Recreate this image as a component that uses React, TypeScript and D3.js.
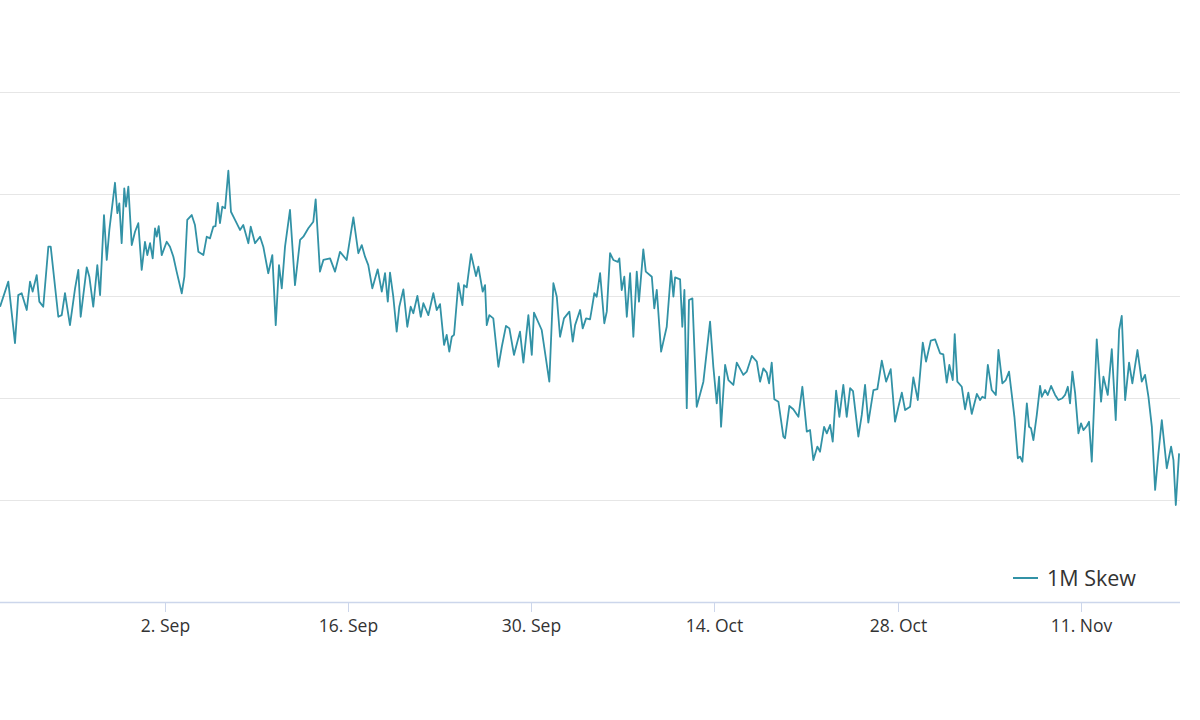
import React, { useMemo } from "react";
import * as d3 from "d3";

const WIDTH = 1200;
const HEIGHT = 720;
// the source chart is cropped on the left, so the plot starts just off-screen
const PLOT = { left: -5.57, right: 1180, top: 91.5, bottom: 602 };

const START = Date.UTC(2024, 7, 20);
const END_DAYS = 90.57;
const DAY = 86400000;

// 1M Skew, sampled at the turning points of the line (days since 20 Aug 2024)
const skewDays = [
  0.43, 1.06, 1.57, 1.82, 2.08, 2.47, 2.72, 2.92, 3.23, 3.43, 3.73, 4.12, 4.3, 4.88, 5.14, 5.39, 5.77, 6.16, 6.41, 6.59,
  7.05, 7.25, 7.55, 7.86, 8.07, 8.37, 8.58, 8.78, 9.21, 9.39, 9.54, 9.72, 9.92, 10.05, 10.23, 10.49, 10.74, 10.99, 11.25, 11.5,
  11.68, 11.89, 12.09, 12.27, 12.4, 12.55, 12.78, 13.16, 13.41, 13.67, 13.92, 14.31, 14.51, 14.73, 15.07, 15.32, 15.58, 15.96, 16.22, 16.47,
  16.72, 16.89, 17.06, 17.23, 17.41, 17.62, 17.87, 18.07, 18.38, 18.76, 19.01, 19.4, 19.58, 19.91, 20.29, 20.54, 20.92, 21.23, 21.49, 21.74,
  21.95, 22.2, 22.58, 22.96, 23.35, 23.6, 23.98, 24.36, 24.54, 24.87, 25.13, 25.64, 26.02, 26.4, 26.91, 27.42, 27.8, 28.06, 28.31, 28.56,
  28.87, 29.28, 29.59, 29.84, 30.05, 30.22, 30.47, 30.73, 30.93, 31.24, 31.54, 31.8, 32.0, 32.31, 32.57, 32.77, 33.15, 33.53, 33.79, 34.04,
  34.35, 34.55, 34.75, 34.94, 35.11, 35.44, 35.75, 35.87, 36.08, 36.41, 36.79, 36.97, 37.3, 37.48, 37.61, 37.81, 38.11, 38.5, 38.76, 39.08,
  39.34, 39.69, 40.15, 40.41, 40.79, 41.05, 41.22, 41.81, 42.39, 42.7, 42.96, 43.21, 43.51, 43.92, 44.18, 44.36, 44.74, 44.94, 45.2, 45.5,
  45.63, 45.83, 46.01, 46.27, 46.59, 46.78, 47.03, 47.28, 47.62, 47.74, 47.92, 48.12, 48.31, 48.56, 48.81, 49.07, 49.24, 49.57, 49.76, 50.22,
  50.41, 50.6, 50.93, 51.36, 51.69, 51.87, 52.0, 52.38, 52.55, 52.71, 52.89, 53.06, 53.32, 53.65, 54.16, 54.67, 54.92, 55.18, 55.36, 55.51,
  55.82, 56.07, 56.45, 56.71, 57.21, 57.47, 57.86, 58.24, 58.49, 58.74, 59.0, 59.18, 59.38, 59.58, 59.89, 60.27, 60.4, 60.73, 61.03, 61.42,
  61.72, 62.06, 62.31, 62.56, 62.87, 63.07, 63.38, 63.59, 63.84, 64.04, 64.3, 64.55, 64.85, 65.11, 65.37, 65.59, 66.0, 66.26, 66.51, 66.76,
  67.15, 67.45, 67.79, 68.12, 68.47, 68.8, 69.06, 69.32, 69.57, 69.95, 70.2, 70.54, 70.92, 71.17, 71.53, 71.86, 72.24, 72.49, 72.75, 72.95,
  73.21, 73.36, 73.56, 73.9, 74.15, 74.4, 74.66, 75.05, 75.3, 75.47, 75.68, 75.89, 76.19, 76.5, 76.7, 77.0, 77.26, 77.51, 77.77, 77.92,
  78.18, 78.35, 78.53, 78.87, 79.04, 79.19, 79.37, 79.63, 79.88, 80.01, 80.26, 80.47, 80.72, 81.03, 81.28, 81.58, 81.79, 82.0, 82.17, 82.35,
  82.56, 82.81, 83.01, 83.19, 83.45, 83.62, 83.83, 84.21, 84.54, 84.72, 85.05, 85.36, 85.66, 85.92, 86.12, 86.38, 86.68, 86.93, 87.32, 87.65,
  87.9, 88.16, 88.42, 88.67, 88.92, 89.18, 89.56, 89.89, 90.07, 90.25, 90.5,
];

const skewValues = [
  4.46, 5.69, 2.68, 5.03, 5.12, 4.3, 5.69, 5.2, 6.01, 4.71, 4.46, 7.4, 7.4, 3.97, 4.05, 5.12, 3.56, 5.36, 6.26, 3.97,
  6.39, 5.93, 4.46, 6.5, 5.03, 8.95, 6.75, 8.22, 10.53, 9.04, 9.52, 7.57, 10.26, 9.36, 10.34, 7.48, 8.13, 8.55, 6.26, 7.64,
  6.99, 7.57, 6.83, 8.3, 7.89, 8.41, 6.99, 7.64, 7.4, 6.91, 6.18, 5.12, 5.93, 8.71, 8.95, 8.46, 7.15, 6.99, 7.89, 7.81,
  8.38, 8.41, 9.55, 8.55, 9.36, 9.28, 11.12, 9.11, 8.71, 8.22, 8.46, 7.57, 8.38, 7.57, 7.89, 7.4, 6.1, 6.99, 3.56, 6.5,
  5.36, 7.4, 9.2, 5.52, 7.73, 7.89, 8.3, 8.62, 9.72, 6.18, 6.75, 6.83, 6.18, 7.15, 6.75, 8.84, 7.08, 7.48, 6.91, 6.5,
  5.36, 6.29, 5.2, 6.1, 4.71, 6.13, 4.95, 3.24, 4.46, 5.31, 3.48, 4.46, 4.14, 4.99, 3.97, 4.63, 4.05, 5.12, 4.3, 4.59,
  2.59, 3.08, 2.26, 2.99, 3.08, 5.61, 4.54, 5.52, 5.41, 7.04, 5.96, 6.42, 5.2, 5.52, 3.56, 4.05, 3.89, 1.52, 2.5, 3.52,
  3.4, 2.1, 3.24, 1.72, 4.05, 2.1, 4.17, 3.32, 0.79, 5.61, 4.95, 2.99, 3.89, 4.22, 2.75, 3.56, 4.3, 3.4, 3.89, 3.84,
  4.33, 5.12, 4.95, 6.1, 3.65, 4.22, 7.08, 6.75, 6.66, 6.83, 5.28, 5.93, 3.97, 6.1, 2.99, 6.18, 4.71, 7.27, 6.18, 5.93,
  4.38, 5.28, 2.26, 3.48, 6.22, 4.95, 5.9, 5.8, 3.48, 5.28, -0.51, 4.79, 4.87, -0.44, 0.79, 3.73, 1.52, -0.27, 1.03, -1.42,
  1.61, 0.87, 0.63, 1.72, 1.12, 1.28, 2.05, 1.77, 0.79, 1.44, 1.23, 0.71, 1.72, -0.07, -0.19, -1.9, -1.98, -0.4, -0.56, -0.93,
  0.54, -1.66, -1.58, -3.05, -2.39, -2.64, -1.42, -1.74, -1.33, -2.15, 0.35, -0.93, 0.63, -0.93, 0.47, 0.33, -1.9, -0.84, 0.63, -1.22,
  0.38, 0.42, 1.82, 0.79, 1.4, -1.17, -0.44, 0.25, -0.6, -0.44, 1.0, -0.11, 2.7, 1.77, 2.8, 2.86, 2.18, 2.13, 0.74, 1.61,
  0.87, 3.12, 0.79, 0.54, -0.56, 0.25, -0.79, 0.19, -0.11, 0.05, -0.02, 1.61, 0.38, 0.14, 2.34, 0.71, 0.87, 1.28, -0.11, -0.93,
  -2.96, -2.88, -3.13, -0.27, -1.42, -1.49, -2.07, -0.84, 0.58, 0.05, 0.38, 0.14, 0.58, 0.14, -0.11, -0.02, 0.14, 0.54, -0.27, 1.28,
  0.22, -1.74, -1.25, -1.58, -1.38, -1.17, -3.13, 2.86, -0.19, 1.03, 0.14, 2.38, -1.09, 3.32, 4.01, -0.11, 1.72, 0.71, 2.34, 0.79,
  1.12, 0.05, -1.42, -4.51, -2.72, -1.09, -3.45, -2.39, -3.05, -5.25, -2.72,
];

const yTicks = [-10, -5, 0, 5, 10, 15];
const xTicks = ["2024-09-02", "2024-09-16", "2024-09-30", "2024-10-14", "2024-10-28", "2024-11-11"];
const seriesName = "1M Skew";

const LINE_COLOR = "#3292a6";
const FONT = "'Open Sans', 'Noto Sans', sans-serif";

export default function App() {
  const points = useMemo(
    () => skewDays.map((d, i) => ({ date: new Date(START + d * DAY), value: skewValues[i] })),
    []
  );

  const xScale = d3
    .scaleUtc()
    .domain([new Date(START), new Date(START + END_DAYS * DAY)])
    .range([PLOT.left, PLOT.right]);

  const yScale = d3.scaleLinear().domain([-10, 15]).range([PLOT.bottom, PLOT.top]);

  const linePath = d3
    .line<{ date: Date; value: number }>()
    .x((d) => xScale(d.date))
    .y((d) => yScale(d.value))(points);

  const fmt = d3.utcFormat("%-d. %b");

  return (
    <div style={{ position: "absolute", left: 0, top: 0, width: WIDTH, height: HEIGHT, background: "#fff" }}>
      <svg width={WIDTH} height={HEIGHT} style={{ display: "block" }}>
        <rect width={WIDTH} height={HEIGHT} fill="#ffffff" />

        {/* horizontal grid */}
        {yTicks.slice(1).map((t) => (
          <line
            key={t}
            x1={0}
            x2={PLOT.right}
            y1={Math.round(yScale(t)) + 0.5}
            y2={Math.round(yScale(t)) + 0.5}
            stroke="#e6e6e6"
            strokeWidth={1}
          />
        ))}

        {/* x axis */}
        <line x1={0} x2={PLOT.right} y1={PLOT.bottom + 0.5} y2={PLOT.bottom + 0.5} stroke="#ccd6eb" strokeWidth={1.5} />
        {xTicks.map((t) => {
          const x = Math.round(xScale(new Date(t + "T00:00:00Z"))) + 0.5;
          return (
            <g key={t}>
              <line x1={x} x2={x} y1={PLOT.bottom} y2={PLOT.bottom + 10} stroke="#ccd6eb" strokeWidth={1} />
              <text
                x={x}
                y={PLOT.bottom + 30}
                textAnchor="middle"
                fontFamily={FONT}
                fontSize={17.5}
                fill="#333333"
              >
                {fmt(new Date(t + "T00:00:00Z"))}
              </text>
            </g>
          );
        })}

        {/* series */}
        <path d={linePath ?? ""} fill="none" stroke={LINE_COLOR} strokeWidth={1.8} strokeLinejoin="round" />

        {/* legend */}
        <g transform="translate(1013,578)">
          <line x1={0} x2={25} y1={0} y2={0} stroke={LINE_COLOR} strokeWidth={2} />
          <text x={34} y={7.5} fontFamily={FONT} fontSize={21.5} fill="#333333">
            {seriesName}
          </text>
        </g>
      </svg>
    </div>
  );
}
